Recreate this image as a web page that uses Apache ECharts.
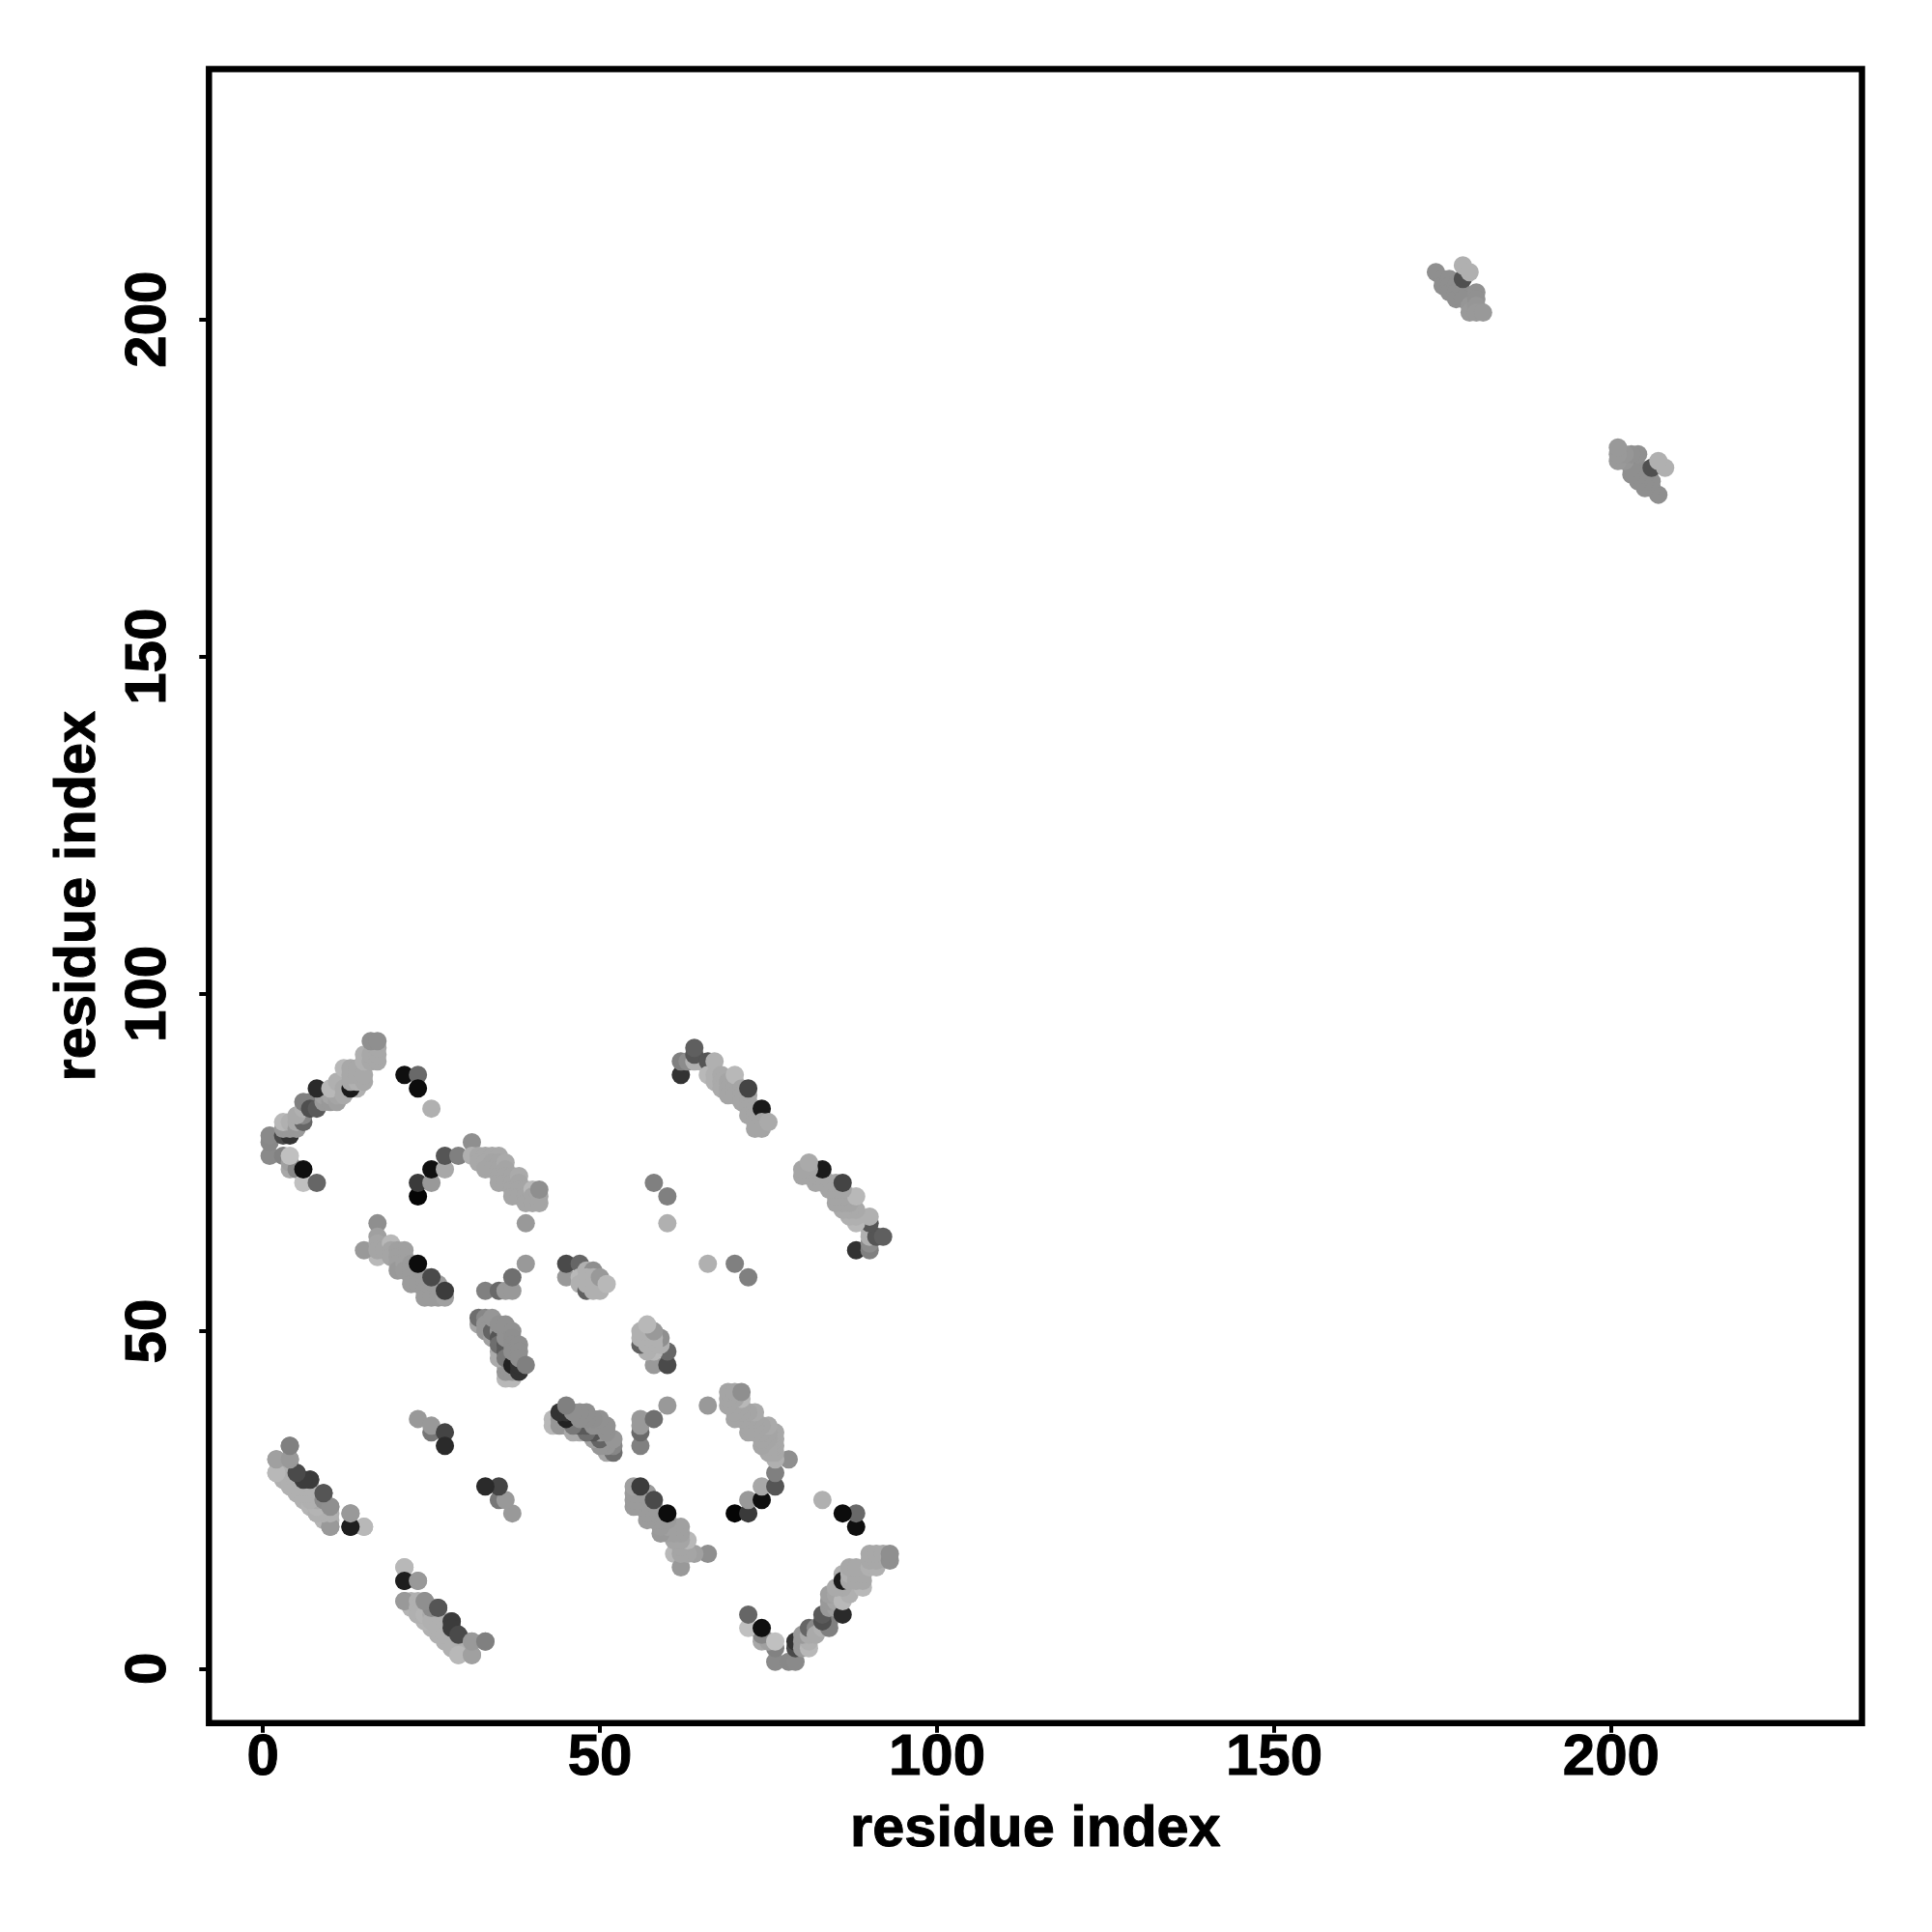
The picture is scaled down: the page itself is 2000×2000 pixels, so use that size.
<!DOCTYPE html>
<html><head><meta charset="utf-8">
<style>html,body{margin:0;padding:0;background:#fff}#c{width:2000px;height:2000px}</style>
<script src="https://cdn.jsdelivr.net/npm/echarts@6/dist/echarts.min.js"></script>
</head><body><div id="c"></div>
<script>
const xTicks=[0,50,100,150,200];
const yTicks=[0,50,100,150,200];
const axisTitle='residue index';
// contacts: [i, j, grey level], i<j. The map is symmetric; each contact also plots at (j,i).
const arcA=[[1,76,138],[1,78,136],[1,79,138],[3,76,130],[3,79,74],[4,79,51],[3,80,153],[4,80,153],[3,81,184],[4,81,176],[5,80,153],[5,81,170],[6,81,102],[6,82,136],[5,82,170],[6,83,176],[6,84,128],[7,84,128],[7,83,79],[8,83,90],[9,84,153],[9,85,160],[10,84,153],[10,85,165],[11,84,160],[11,85,165],[8,86,42],[10,86,184],[11,87,176],[12,86,170],[12,85,170],[14,86,176],[13,86,26],[13,87,168],[14,87,176],[12,89,184],[13,88,168],[13,89,168],[14,88,168],[14,89,168],[15,87,168],[15,88,168],[15,90,176],[15,91,176],[16,90,168],[16,91,168],[17,90,168],[17,91,168],[17,92,168],[16,93,143],[17,93,143],[4,74,168],[4,75,160],[5,74,136],[4,76,192],[6,72,192],[6,74,15],[8,72,102]];
const farPairs=[[21,88,15],[23,88,105],[23,86,12],[25,83,176]];
const helixC=[[4,33,143],[2,31,153],[4,31,160],[2,29,184],[3,29,184],[3,28,175],[4,28,176],[4,27,176],[5,27,176],[5,26,176],[6,26,180],[6,25,176],[7,25,176],[7,24,180],[8,25,176],[8,24,176],[9,24,176],[8,23,176],[9,23,176],[9,22,180],[10,22,176],[6,28,110],[5,29,79],[7,28,60],[9,25,102],[9,26,74],[10,24,143],[10,21,153],[13,23,153],[13,21,42],[15,21,176]];
const helixD=[[21,15,184],[21,13,30],[23,13,153],[21,10,153],[23,10,176],[23,9,176],[23,8,176],[24,9,176],[24,8,180],[25,8,170],[25,7,176],[26,7,176],[26,6,176],[27,7,176],[27,6,176],[27,5,176],[29,4,176],[30,4,153],[30,3,176],[29,3,176],[29,2,184],[25,9,140],[24,10,143],[26,9,85],[28,7,60],[28,6,60],[29,5,74],[31,2,160],[31,4,153],[33,4,128]];
const pairK=[[25,35,119],[23,37,153],[25,36,153],[27,35,68],[27,33,42]];
const arcD=[[23,70,5],[23,72,58],[25,72,153],[25,74,15],[27,74,168],[27,76,85],[29,76,128],[31,78,143],[31,76,176],[32,76,168],[33,76,168],[34,76,168],[35,76,168],[32,75,168],[33,75,168],[33,74,165],[34,75,165],[34,74,165],[35,75,165],[35,74,165],[36,75,170],[35,73,165],[35,72,165],[36,74,165],[36,73,165],[36,72,165],[37,73,165],[37,72,165],[37,71,165],[37,70,165],[38,73,170],[38,72,165],[38,71,165],[38,70,165],[39,71,165],[39,70,165],[39,69,165],[40,71,184],[40,70,165],[40,69,165],[41,69,165],[41,70,165],[41,71,143]];
const arcE=[[17,61,184],[15,62,153],[17,66,143],[17,64,160],[17,63,165],[17,62,165],[18,62,165],[19,63,184],[19,62,165],[19,61,165],[20,62,160],[21,62,160],[20,61,160],[21,61,160],[20,60,160],[20,59,153],[21,60,160],[21,59,155],[22,60,155],[22,59,155],[22,58,155],[22,57,155],[23,58,155],[23,57,155],[24,58,155],[24,57,155],[24,56,155],[24,55,155],[25,57,155],[25,56,155],[25,55,155],[26,57,155],[26,56,155],[26,55,155],[27,55,160],[23,60,12],[25,58,74],[27,56,60]];
const groupF=[[33,56,128],[35,56,105],[36,56,153],[37,56,153],[37,58,111],[39,60,153],[39,66,153]];
const groupH=[[45,58,153],[45,60,74],[47,60,102],[47,58,184],[47,57,176],[48,56,96],[48,59,176],[49,59,143],[48,58,176],[48,57,176],[49,58,176],[49,57,176],[49,56,176],[50,56,176],[50,57,176],[50,58,153],[51,57,184]];
const groupJ=[[36,43,184],[37,43,184],[36,44,150],[37,44,150],[36,45,150],[32,51,165],[32,52,110],[33,52,135],[33,51,150],[34,51,150],[33,50,150],[34,49,160],[34,50,100],[35,50,150],[35,47,170],[35,46,170],[35,49,85],[35,48,110],[36,48,90],[36,47,90],[36,46,120],[37,45,34],[38,44,51],[38,45,51],[34,52,150],[35,51,145],[36,50,145],[36,49,145],[36,51,145],[37,50,145],[37,49,143],[37,48,143],[37,47,143],[38,48,143],[38,47,143],[38,46,143],[39,45,128]];
const arcG=[[62,88,51],[62,90,128],[63,90,140],[64,90,176],[65,90,176],[64,91,85],[64,92,95],[66,90,85],[66,88,184],[67,88,176],[67,87,176],[67,90,176],[68,88,170],[68,87,170],[68,86,170],[69,87,165],[69,86,165],[69,85,165],[70,87,165],[70,86,165],[70,85,165],[70,88,184],[71,86,165],[71,85,165],[71,84,165],[72,85,165],[72,84,165],[72,83,165],[72,82,165],[72,86,68],[73,83,165],[73,82,165],[73,81,165],[73,80,165],[74,82,165],[74,83,26],[74,81,165],[74,80,165],[75,81,170]];
const groupI=[[58,72,128],[60,70,128],[60,66,176]];
const groupT=[[174,207,143],[175,206,143],[175,205,143],[176,206,143],[176,205,143],[176,204,143],[177,205,143],[177,204,143],[177,203,143],[178,204,143],[178,203,143],[178,206,80],[178,208,176],[179,207,176],[179,202,150],[179,201,153],[180,204,145],[180,203,145],[180,202,150],[180,201,153],[181,201,153]];

const contacts=[arcA,farPairs,helixC,helixD,pairK,arcD,arcE,groupF,groupH,groupJ,arcG,groupI,groupT];
const points=[];
for(const group of contacts){for(const [i,j,g] of group){
  const color='rgb('+g+','+g+','+g+')';
  points.push({value:[i,j],itemStyle:{color}});
  points.push({value:[j,i],itemStyle:{color}});
}}
const font='"Liberation Sans"';
const heavy={fontFamily:font,fontWeight:'bold',color:'#000',textBorderColor:'#000',textBorderWidth:1};
const chart=echarts.init(document.getElementById('c'),null,{renderer:'canvas'});
chart.setOption({
  animation:false,
  backgroundColor:'#fff',
  grid:{left:216.3,top:71.5,width:1711.2,height:1712.2,show:true,borderColor:'#000',borderWidth:6.5,backgroundColor:'transparent',z:5},
  xAxis:{type:'value',min:-8,max:237.2,
    name:axisTitle,nameLocation:'middle',nameGap:81,
    nameTextStyle:{...heavy,fontSize:59.5},
    axisLine:{show:false,onZero:false},splitLine:{show:false},
    axisTick:{show:true,length:10,lineStyle:{width:4,color:'#000'},customValues:xTicks},
    axisLabel:{...heavy,show:true,margin:7,fontSize:60,customValues:xTicks,formatter:v=>String(v)}},
  yAxis:{type:'value',min:-8.08,max:237.1,
    name:axisTitle,nameLocation:'middle',nameGap:105,nameRotate:90,
    nameTextStyle:{...heavy,fontSize:59.5},
    axisLine:{show:false,onZero:false},splitLine:{show:false},
    axisTick:{show:true,length:10,lineStyle:{width:4,color:'#000'},customValues:yTicks},
    axisLabel:{...heavy,show:true,rotate:90,margin:32,fontSize:60,customValues:yTicks,formatter:v=>String(v),verticalAlign:'bottom',align:'center'}},
  series:[{type:'scatter',symbol:'circle',symbolSize:19,silent:true,clip:false,data:points,large:false,itemStyle:{opacity:1}}]
});
</script></body></html>
